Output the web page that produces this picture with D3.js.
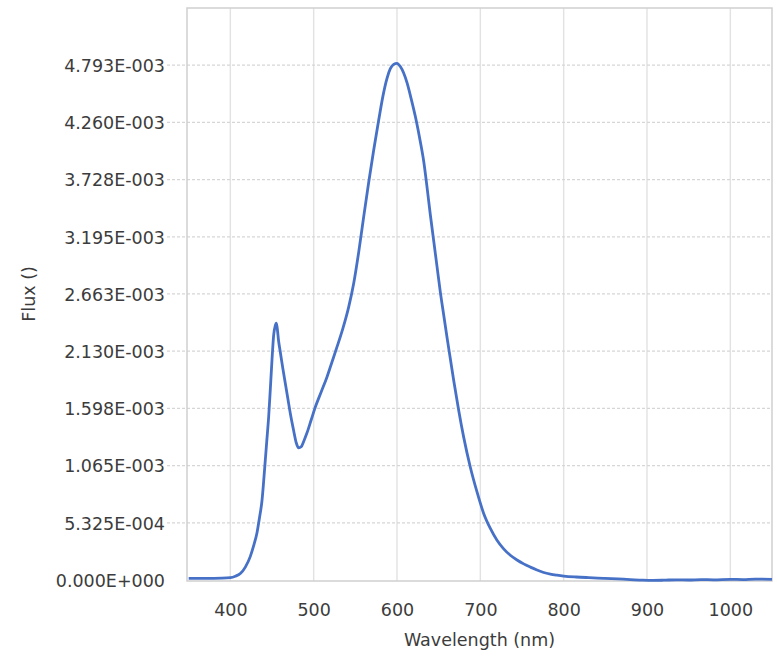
<!DOCTYPE html>
<html>
<head>
<meta charset="utf-8">
<script src="https://cdn.jsdelivr.net/npm/d3@7"></script>
<style>
  html, body { margin: 0; padding: 0; background: #ffffff; }
  svg { display: block; }
  text { font-family: "DejaVu Sans", Verdana, sans-serif; }
</style>
</head>
<body>
<svg id="chart" width="777" height="657"></svg>
<script>
// ---- data ----
const wavelength = [350, 370, 390, 400, 406, 412, 418, 424, 428, 432, 435, 438, 440, 442, 444, 446, 448, 450, 452, 454, 455, 456, 458, 460, 463, 466, 469, 472, 476, 479, 482, 485, 488, 492, 497, 502, 509, 516, 522, 528, 535, 542, 548, 554, 560, 566, 572, 578, 583, 588, 592, 596, 600, 604, 608, 612, 617, 623, 628, 632, 636, 640, 644, 648, 652, 656, 660, 664, 668, 674, 680, 688, 696, 704, 712, 720, 728, 736, 744, 752, 760, 768, 776, 784, 792, 800, 815, 830, 848, 865, 880, 895, 907, 920, 935, 950, 965, 980, 1000, 1015, 1030, 1050];
const fluxMilli = [0.016, 0.016, 0.018, 0.022, 0.035, 0.06, 0.12, 0.22, 0.32, 0.44, 0.58, 0.74, 0.92, 1.12, 1.32, 1.52, 1.78, 2.05, 2.28, 2.37, 2.39, 2.36, 2.22, 2.12, 1.97, 1.83, 1.69, 1.55, 1.39, 1.28, 1.23, 1.24, 1.29, 1.37, 1.49, 1.61, 1.75, 1.89, 2.03, 2.17, 2.34, 2.54, 2.76, 3.05, 3.38, 3.70, 4.00, 4.28, 4.50, 4.67, 4.76, 4.80, 4.81, 4.78, 4.72, 4.63, 4.48, 4.28, 4.08, 3.90, 3.66, 3.40, 3.16, 2.92, 2.68, 2.47, 2.26, 2.06, 1.86, 1.58, 1.33, 1.05, 0.82, 0.62, 0.48, 0.37, 0.29, 0.23, 0.186, 0.15, 0.12, 0.093, 0.07, 0.055, 0.045, 0.037, 0.028, 0.022, 0.016, 0.010, 0.004, -0.002, -0.004, -0.002, 0.002, 0.0, 0.004, 0.002, 0.006, 0.004, 0.008, 0.006];
const xTicks = [400, 500, 600, 700, 800, 900, 1000];
const yTicks = [0, 5.325e-4, 1.065e-3, 1.598e-3, 2.130e-3, 2.663e-3, 3.195e-3, 3.728e-3, 4.260e-3, 4.793e-3];
const yTickLabels = ["0.000E+000", "5.325E-004", "1.065E-003", "1.598E-003", "2.130E-003", "2.663E-003", "3.195E-003", "3.728E-003", "4.260E-003", "4.793E-003"];
const xTitle = "Wavelength (nm)";
const yTitle = "Flux ()";

const data = wavelength.map((w, i) => ({ w: w, f: fluxMilli[i] * 1e-3 }));

// ---- layout ----
const pLeft = 187, pRight = 772, pTop = 8, pBottom = 580;
const svg = d3.select("#chart");

const x = d3.scaleLinear().domain([348, 1050]).range([pLeft, pRight]);
const y = d3.scaleLinear().domain([0, 5.325e-3]).range([pBottom, pTop]);

// grid
const grid = svg.append("g");
grid.selectAll("line.v").data(xTicks).enter().append("line")
  .attr("x1", d => x(d)).attr("x2", d => x(d))
  .attr("y1", pTop).attr("y2", pBottom + 1)
  .attr("stroke", "#e2e2e2").attr("stroke-width", 1.4);
grid.selectAll("line.h").data(yTicks.slice(1)).enter().append("line")
  .attr("x1", pLeft - 20).attr("x2", pRight)
  .attr("y1", d => y(d)).attr("y2", d => y(d))
  .attr("stroke", "#d6d6d6").attr("stroke-width", 1.2)
  .attr("stroke-dasharray", "3,2");

// frame
svg.append("rect")
  .attr("x", pLeft).attr("y", pTop)
  .attr("width", pRight - pLeft).attr("height", pBottom - pTop + 1)
  .attr("fill", "none").attr("stroke", "#cfcfcf").attr("stroke-width", 1.5);

// axes (labels only, styled like the reference)
const xAxis = d3.axisBottom(x).tickValues(xTicks).tickSize(0).tickPadding(0)
  .tickFormat(d3.format("d"));
const gx = svg.append("g").attr("transform", `translate(0,${pBottom})`).call(xAxis);
gx.select(".domain").remove();
gx.selectAll("text")
  .attr("y", 36).attr("dy", 0)
  .attr("font-size", 17.5).attr("fill", "#3c3c3c")
  .attr("font-family", "DejaVu Sans, sans-serif");

const yAxis = d3.axisLeft(y).tickValues(yTicks).tickSize(0)
  .tickFormat((d, i) => yTickLabels[i]);
const gy = svg.append("g").attr("transform", `translate(165,0)`).call(yAxis);
gy.select(".domain").remove();
gy.selectAll("text")
  .attr("x", 0).attr("dy", "0.36em")
  .attr("font-size", 17.5).attr("fill", "#3c3c3c")
  .attr("font-family", "DejaVu Sans, sans-serif");

// titles
svg.append("text")
  .attr("x", (pLeft + pRight) / 2).attr("y", 646)
  .attr("text-anchor", "middle").attr("font-size", 17.5).attr("fill", "#3c3c3c")
  .text(xTitle);
svg.append("text")
  .attr("transform", `translate(35,${(pTop + pBottom) / 2}) rotate(-90)`)
  .attr("text-anchor", "middle").attr("font-size", 17.5).attr("fill", "#3c3c3c")
  .text(yTitle);

// curve
const line = d3.line().x(d => x(d.w)).y(d => y(d.f)).curve(d3.curveMonotoneX);
svg.append("path").datum(data)
  .attr("d", line)
  .attr("fill", "none")
  .attr("stroke", "#4671c6")
  .attr("stroke-width", 2.8)
  .attr("stroke-linejoin", "round");
</script>
</body>
</html>
